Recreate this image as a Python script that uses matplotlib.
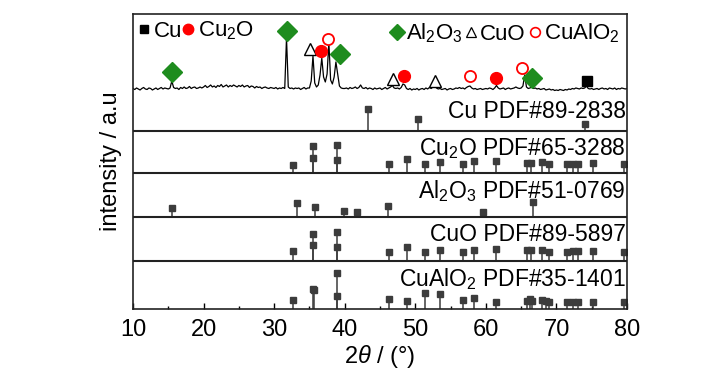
import numpy as np
import matplotlib
matplotlib.use("Agg")
from matplotlib import pyplot as plt
from matplotlib.lines import Line2D

FONT = "Liberation Sans"
plt.rcParams["font.family"] = [FONT, "DejaVu Sans"]
plt.rcParams["mathtext.fontset"] = "custom"
plt.rcParams["mathtext.rm"] = FONT
plt.rcParams["mathtext.it"] = FONT + ":italic"

# measured pattern, sampled every 0.25 deg from 10 to 80 (a.u. above background)
pattern_2theta = np.arange(10.0, 80.001, 0.25)
pattern_counts = [
    0.5, -0.5, 1.0, 0.0, -1.0, 0.5, 1.5, 0.0, -0.5, 1.0, 0.5, -1.0, 0.0, 1.0, -0.5, 0.5, 1.5, 0.0, 1.0, 0.5,
    0.0, 1.0, 8.0, 1.5, 0.5, 1.0, -0.5, 1.5, 0.5, 2.0, 0.5, 1.0, 2.5, 0.5, 1.5, 2.0, 0.5, 1.0, 2.0, 1.0,
    2.0, 3.5, 1.5, 2.5, 4.0, 2.0, 3.0, 1.5, 3.5, 2.5, 4.5, 2.0, 3.0, 4.0, 2.0, 3.5, 2.5, 4.0, 3.0, 2.0,
    3.5, 2.5, 4.0, 2.0, 3.0, 3.5, 1.5, 3.0, 2.5, 1.0, 2.5, 1.5, 2.0, 0.5, 1.5, 2.0, 1.0, 0.5, 1.5, 1.0,
    0.5, 1.5, 0.0, 1.0, 0.5, 1.5, 0.5, 51.0, 2.0, 0.5, 1.0, 0.0, 1.0, 0.5, 1.0, -0.5, 0.5, 1.5, 0.0, 1.0,
    1.0, 8.0, 33.0, 6.0, 2.0, 4.0, 14.0, 31.0, 12.0, 7.0, 15.0, 47.0, 9.0, 5.0, 12.0, 27.0, 15.0, 3.0, 1.0, 0.5,
    0.5, 1.0, 0.0, 1.5, 0.5, 1.0, 2.0, 0.5, 1.5, 4.0, 1.0, 0.5, 1.5, 0.0, 1.0, 0.5, -0.5, 1.0, 0.0, 0.5,
    1.0, -0.5, 0.5, 1.5, 0.0, 1.0, 2.0, 3.5, 1.0, 0.5, 1.0, 0.0, 1.5, 5.0, 4.0, 0.5, -0.5, 0.5, -1.0, 0.0,
    -0.5, 0.5, -1.0, 0.0, 0.5, -0.5, 1.0, 0.0, 1.5, 0.5, 2.0, 3.0, 1.0, 0.0, 0.5, -0.5, 0.0, 0.5, -1.0, 0.0,
    0.5, -0.5, 0.0, 1.0, 0.5, 1.5, 0.5, 1.0, 0.0, 1.5, 2.5, 3.0, 1.0, 0.0, 0.5, -0.5, 0.0, 0.5, -0.5, 0.0,
    0.5, 0.0, 1.0, 0.5, -0.5, 1.0, 3.5, 1.0, 0.0, 0.5, 1.0, -0.5, 0.5, 1.0, 0.0, 0.5, 1.0, 2.0, 1.0, 0.5,
    1.0, 3.0, 14.0, 2.0, 0.5, 1.0, 2.0, 0.5, 1.0, 0.0, 0.5, -0.5, 0.0, 0.5, -1.0, -0.5, 0.0, -1.0, -0.5, -1.5,
    -1.0, -1.5, -0.5, -1.0, -1.5, -0.5, -1.0, 0.0, -0.5, 0.5, 0.0, 1.0, 0.5, 0.0, 1.0, 0.5, 1.0, 3.0, 0.5, 0.0,
    0.5, -0.5, 0.0, 0.5, -0.5, 0.5, 1.0, 0.0, 0.5, -0.5, 1.0, 0.5, 0.0, 1.0, -0.5, 0.5, 0.0, 1.0, 0.5, 0.0,
    0.5,
]

# phase markers above the measured pattern (2theta, height above background)
al2o3_mark_x = [15.5, 31.8, 39.3, 66.5]
al2o3_mark_y = [17, 58, 35, 11]
cuo_mark_x = [35.1, 46.8, 52.8]
cuo_mark_y = [40, 10, 8]
cu2o_mark_x = [36.7, 48.4, 61.5]
cu2o_mark_y = [38, 13, 11]
cualo2_mark_x = [37.7, 57.75, 65.1]
cualo2_mark_y = [50, 13, 21]
cu_mark_x = [74.3]
cu_mark_y = [8]

# reference cards (2theta, relative height)
cu_pos = [43.3, 50.4, 74.1]
cu_int = [22, 12, 7]

cu2o_pos = [32.6, 35.5, 35.5, 38.9, 38.9, 46.3, 48.8, 51.4, 53.5, 56.7, 58.3, 61.4,
            65.8, 66.4, 68.0, 69.0, 71.5, 72.4, 73.0, 75.2, 79.6]
cu2o_int = [8, 27, 15, 28, 13, 8.7, 14, 8.7, 10.7, 9.3, 11.7, 12,
            10.3, 10.3, 10.7, 9, 9, 9, 9, 10, 8.7]

al2o3_pos = [15.5, 33.3, 35.8, 39.9, 41.8, 46.1, 59.6, 66.7]
al2o3_int = [9.3, 14, 10.3, 6, 4.5, 10.5, 4.7, 14.7]

cuo_pos = [32.6, 35.5, 35.5, 38.9, 38.9, 46.3, 48.8, 51.4, 53.5, 56.7, 58.3, 61.4,
           65.8, 66.4, 68.0, 69.0, 71.5, 72.4, 73.0, 75.2, 79.6]
cuo_int = [10, 27, 15.7, 28.7, 14.3, 9.3, 13.7, 9.3, 11, 9.3, 11, 12.3,
           10.7, 10.7, 11, 9.3, 9.3, 9.7, 9.7, 10.3, 9.3]

cualo2_pos = [32.6, 35.5, 35.6, 38.9, 38.9, 46.3, 48.8, 51.4, 53.5, 56.7, 58.3, 61.4,
              65.8, 66.2, 66.5, 68.0, 68.5, 69.0, 71.5, 72.4, 73.0, 75.2, 79.6]
cualo2_int = [9, 20, 19, 36, 13.3, 9.7, 8, 15.7, 14.7, 8.7, 11.3, 7.3,
              8, 10, 8, 9, 7.5, 7.3, 7.3, 7.3, 7.3, 7.3, 7.3]

card_labels = ["Cu PDF#89-2838", "Cu$_2$O PDF#65-3288", "Al$_2$O$_3$ PDF#51-0769",
               "CuO PDF#89-5897", "CuAlO$_2$ PDF#35-1401"]

# layout: vertical offsets of each strip
pattern_offset = 220
card_offsets = [178, 136, 92, 48, 0]
label_offsets = [13, 18, 19, 20, 23]

fig = plt.figure(figsize=(7.28, 3.72), dpi=100)
ax = fig.add_axes([0.1827, 0.1694, 0.6786, 0.793])

ax.plot(pattern_2theta, np.array(pattern_counts) + pattern_offset, color="black", lw=0.9)

ms_kw = dict(ls="", clip_on=False)
ax.plot(al2o3_mark_x, np.array(al2o3_mark_y) + pattern_offset, marker="D", ms=10,
        color="#1e8c1e", **ms_kw)
ax.plot(cuo_mark_x, np.array(cuo_mark_y) + pattern_offset, marker="^", ms=8,
        mfc="white", mec="black", mew=1.0, **ms_kw)
ax.plot(cu2o_mark_x, np.array(cu2o_mark_y) + pattern_offset, marker="o", ms=8.5,
        color="#ff0000", **ms_kw)
ax.plot(cualo2_mark_x, np.array(cualo2_mark_y) + pattern_offset, marker="o", ms=8,
        mfc="white", mec="#ff0000", mew=1.3, **ms_kw)
ax.plot(cu_mark_x, np.array(cu_mark_y) + pattern_offset, marker="s", ms=7,
        color="black", **ms_kw)

cards = [(cu_pos, cu_int), (cu2o_pos, cu2o_int), (al2o3_pos, al2o3_int),
         (cuo_pos, cuo_int), (cualo2_pos, cualo2_int)]
stick_col = "#3c3c3c"
for (pos, inten), base, label, loff in zip(cards, card_offsets, card_labels, label_offsets):
    tops = base + np.array(inten)
    ax.vlines(pos, base, tops, color=stick_col, lw=1.1)
    ax.plot(pos, tops, ls="", marker="s", ms=4.2, color=stick_col)
    ax.text(79.8, base + loff, label, ha="right", va="baseline", fontsize=16.5)
    if base > 0:
        ax.axhline(base, color="#222222", lw=1.5)

# legends
h1 = [Line2D([], [], ls="", marker="s", ms=5.5, color="black"),
      Line2D([], [], ls="", marker="o", ms=7.5, color="#ff0000")]
leg1 = ax.legend(h1, ["Cu", "Cu$_2$O"], loc="upper left", ncol=2, frameon=False,
                 fontsize=16, handlelength=0.5, handletextpad=0.2, columnspacing=0.0,
                 borderaxespad=0.05, borderpad=0.2)
ax.add_artist(leg1)
h2 = [Line2D([], [], ls="", marker="D", ms=8, color="#1e8c1e"),
      Line2D([], [], ls="", marker="^", ms=7.5, mfc="white", mec="black", mew=0.9),
      Line2D([], [], ls="", marker="o", ms=7, mfc="white", mec="#ff0000", mew=1.2)]
ax.legend(h2, ["Al$_2$O$_3$", "CuO", "CuAlO$_2$"], loc="upper right", ncol=3, frameon=False,
          fontsize=16, handlelength=0.6, handletextpad=0.1, columnspacing=0.1,
          borderaxespad=0.15, borderpad=0.2)

ax.set_xlim(10, 80)
ax.set_ylim(0, 295)
ax.set_xticks(np.arange(10, 81, 10))
ax.set_xticks(np.arange(15, 80, 10), minor=True)
ax.tick_params(axis="x", which="major", direction="in", length=4.5, width=1.0, labelsize=17, pad=7)
ax.tick_params(axis="x", which="minor", direction="in", length=2.2, width=1.0)
ax.set_yticks([])
for sp in ax.spines.values():
    sp.set_linewidth(1.2)
    sp.set_color("#222222")

ax.set_xlabel(r"2$\mathit{\theta}$ / (°)", fontsize=17, labelpad=2)
ax.set_ylabel("intensity / a.u", fontsize=17, labelpad=8)

fig.savefig("out.png", dpi=100)
